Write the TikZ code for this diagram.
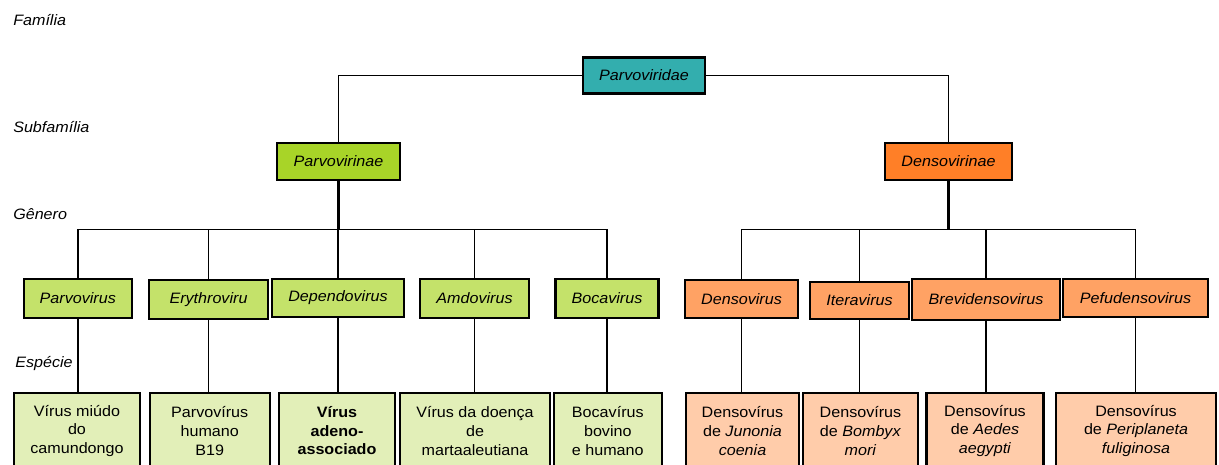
\documentclass[tikz,border=0pt]{standalone}
\usepackage{fontspec}
\setmainfont[FakeStretch=1.07]{Liberation Sans}
\definecolor{famteal}{RGB}{51,174,174}
\definecolor{subgreen}{RGB}{168,212,40}
\definecolor{suborange}{RGB}{255,127,39}
\definecolor{gengreen}{RGB}{196,226,106}
\definecolor{genorange}{RGB}{255,162,100}
\definecolor{spgreen}{RGB}{226,239,184}
\definecolor{sporange}{RGB}{255,204,170}
\begin{document}
\begin{tikzpicture}[x=0.75pt,y=-0.75pt,
  sz/.style 2 args={minimum width={#1*0.75pt},minimum height={#2*0.75pt}},
  box/.style={draw,line width=1.6pt,inner sep=0pt,align=center,font=\fontsize{11.3}{13.9}\selectfont},
  taxon/.style={box,font=\fontsize{11.3}{13.9}\selectfont\itshape},
  level/.style={anchor=west,inner sep=0pt,font=\fontsize{11.3}{13.9}\selectfont\itshape},
  link/.style={line width=1.3pt},
  trunk/.style={line width=2pt}]
\useasboundingbox (0,0) rectangle (1219,464);

\node[level] (lfam) at (13,20) {Família};
\node[level] (lsub) at (13,127) {Subfamília};
\node[level] (lgen) at (13,214) {Gênero};
\node[level] (lesp) at (15,364) {Espécie};

\node[taxon,fill=famteal,sz={122}{36}] (fam) at (644,75.5) {Parvoviridae};
\node[taxon,fill=subgreen,sz={123}{37}] (parvin) at (338.5,161.5) {Parvovirinae};
\node[taxon,fill=suborange,sz={127}{37}] (densin) at (948.5,161.5) {Densovirinae};

\node[taxon,fill=gengreen,sz={108}{39}] (parvo) at (77.75,298.5) {Parvovirus};
\node[taxon,fill=gengreen,sz={119}{39}] (erythro) at (208.5,299.5) {Erythroviru};
\node[taxon,fill=gengreen,sz={132}{38}] (dependo) at (338,298) {Dependovirus};
\node[taxon,fill=gengreen,sz={109}{39}] (amdo) at (474.5,298.5) {Amdovirus};
\node[taxon,fill=gengreen,sz={103}{39}] (boca) at (607,298.5) {Bocavirus};
\node[taxon,fill=genorange,sz={113}{38}] (denso) at (741.5,299) {Densovirus};
\node[taxon,fill=genorange,sz={99}{37}] (itera) at (859.5,300.5) {Iteravirus};
\node[taxon,fill=genorange,sz={148}{41}] (brevi) at (986,299.5) {Brevidensovirus};
\node[taxon,fill=genorange,sz={145}{38}] (pefu) at (1135.5,298) {Pefudensovirus};

\node[box,fill=spgreen,sz={126}{76}] (sparvo) at (77,431) {Vírus miúdo\\do\\camundongo};
\node[box,fill=spgreen,sz={120}{76}] (serythro) at (209.75,431) {Parvovírus\\humano\\B19};
\node[box,fill=spgreen,sz={116}{76},font=\fontsize{11.3}{13.9}\selectfont\bfseries] (sdependo) at (337,431) {Vírus\\adeno-\\associado};
\node[box,fill=spgreen,sz={150}{76}] (samdo) at (475,431) {Vírus da doença\\de\\martaaleutiana};
\node[box,fill=spgreen,sz={108}{76}] (sboca) at (607.8,431) {Bocavírus\\bovino\\e humano};
\node[box,fill=sporange,sz={113}{76}] (sdenso) at (742.5,431) {Densovírus\\de \textit{Junonia}\\\textit{coenia}};
\node[box,fill=sporange,sz={115}{76}] (sitera) at (860.5,431) {Densovírus\\de \textit{Bombyx}\\\textit{mori}};
\node[box,fill=sporange,sz={117}{76}] (sbrevi) at (985,431) {Densovírus\\de \textit{Aedes}\\\textit{aegypti}};
\node[box,fill=sporange,sz={160}{76}] (spefu) at (1136,431) {Densovírus\\de \textit{Periplaneta}\\\textit{fuliginosa}};

\coordinate (bar) at (0,229.5);

\draw[link] (parvin.north) |- (fam.west);
\draw[link] (fam.east) -| (densin.north);

\draw[trunk] (parvin.south) -- (parvin |- bar);
\draw[link] (parvo.north) -- (parvo |- bar) -- (boca |- bar) -- (boca.north);
\foreach \g in {erythro,dependo,amdo}
  \draw[link] (\g.north) -- (\g |- bar);

\draw[trunk] (densin.south) -- (densin |- bar);
\draw[link] (denso.north) -- (denso |- bar) -- (pefu |- bar) -- (pefu.north);
\foreach \g in {itera,brevi}
  \draw[link] (\g.north) -- (\g |- bar);

\foreach \g in {parvo,erythro,dependo,amdo,boca,denso,itera,brevi,pefu}
  \draw[link] (\g.south) -- (\g.south |- s\g.north);
\end{tikzpicture}
\end{document}
